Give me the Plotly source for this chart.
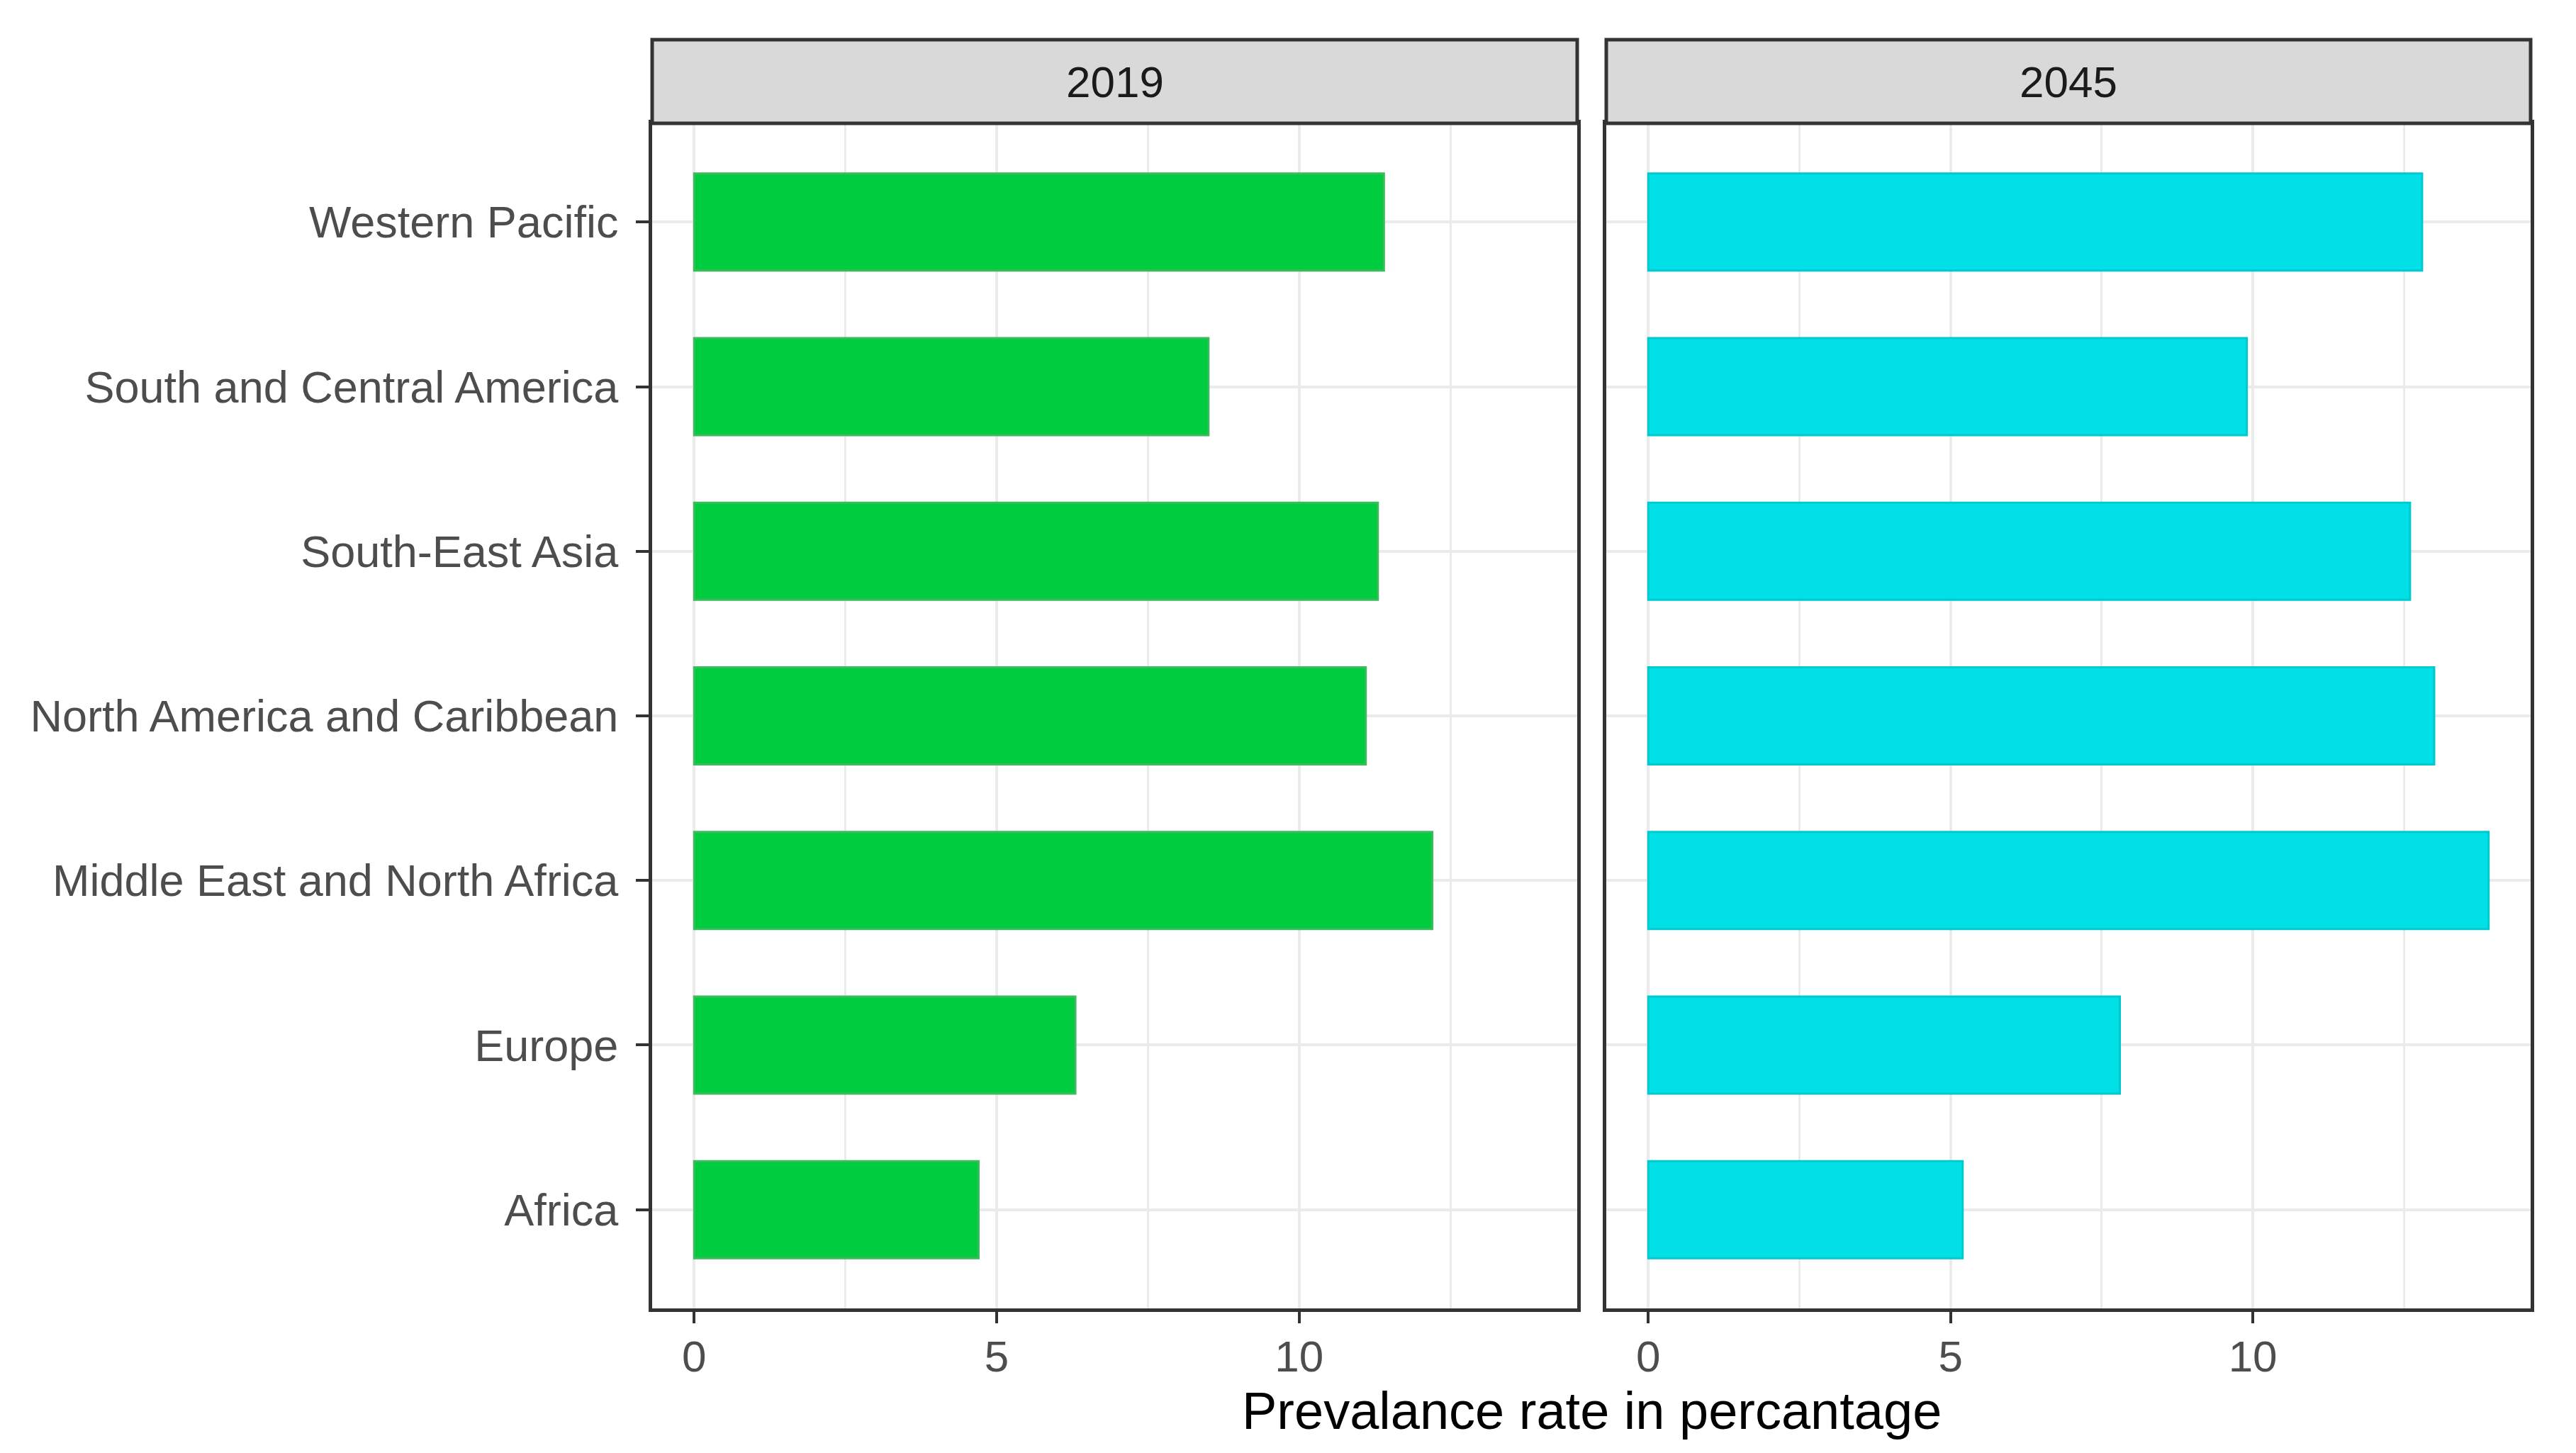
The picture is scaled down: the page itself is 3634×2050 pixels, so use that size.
import plotly.graph_objects as go

regions = ["Africa", "Europe", "Middle East and North Africa",
           "North America and Caribbean", "South-East Asia",
           "South and Central America", "Western Pacific"]
rate_2019 = [4.7, 6.3, 12.2, 11.1, 11.3, 8.5, 11.4]
rate_2045 = [5.2, 7.8, 13.9, 13.0, 12.6, 9.9, 12.8]
years = ["2019", "2045"]
x_ticks = [0, 5, 10]
x_minor = [2.5, 7.5, 12.5]

W, H = 3634, 2050
FONT = "Liberation Sans"
dark = "#333333"
grid = "#ebebeb"

# panel positions (paper)
dom1 = [912 / W, 2217 / W]
dom2 = [2258 / W, 3562 / W]
ydom = [(H - 1838) / H, (H - 166) / H]
strip_top = (H - 48) / H

xmax = max(max(rate_2019), max(rate_2045))
xr = [-0.05 * xmax, 1.05 * xmax]

fig = go.Figure()
fig.add_trace(go.Bar(
    x=rate_2019, y=regions, orientation="h", xaxis="x", yaxis="y",
    marker=dict(color="#00cc40", line=dict(color="#3dba5c", width=3)),
    showlegend=False))
fig.add_trace(go.Bar(
    x=rate_2045, y=regions, orientation="h", xaxis="x2", yaxis="y2",
    marker=dict(color="#00e0e6", line=dict(color="#00c9cf", width=3)),
    showlegend=False))

xax = dict(range=xr, tickvals=x_ticks, showgrid=True, gridcolor=grid,
           gridwidth=4, zeroline=False, ticks="outside", ticklen=16,
           tickwidth=4, tickcolor=dark, showline=True, linecolor=dark,
           linewidth=5, mirror=True, ticklabelstandoff=-6,
           tickfont=dict(family=FONT, size=62, color="#4d4d4d"),
           minor=dict(tickvals=x_minor, showgrid=True, gridcolor=grid,
                      gridwidth=3, ticks=""))
yax = dict(type="category", categoryorder="array", categoryarray=regions,
           range=[-0.6, len(regions) - 0.4], showgrid=True, gridcolor=grid,
           gridwidth=4, zeroline=False, showline=True, linecolor=dark,
           linewidth=5, mirror=True, domain=ydom)

fig.update_layout(
    width=W, height=H,
    margin=dict(l=0, r=0, t=0, b=0),
    paper_bgcolor="white", plot_bgcolor="white",
    bargap=0.41,
    xaxis=dict(xax, domain=dom1, anchor="y"),
    xaxis2=dict(xax, domain=dom2, anchor="y2"),
    yaxis=dict(yax, anchor="x", ticks="outside", ticklen=18, tickwidth=4,
               tickcolor=dark, ticklabelstandoff=12,
               tickfont=dict(family=FONT, size=63, color="#4d4d4d")),
    yaxis2=dict(yax, anchor="x2", showticklabels=False, ticks=""),
)

# facet strips
for dom, label in zip([dom1, dom2], years):
    fig.add_shape(type="rect", xref="paper", yref="paper",
                  x0=dom[0], x1=dom[1], y0=ydom[1], y1=strip_top,
                  fillcolor="#d9d9d9", line=dict(color=dark, width=5))
    fig.add_annotation(x=(dom[0] + dom[1]) / 2, y=(ydom[1] + strip_top) / 2,
                       xref="paper", yref="paper", text=label, showarrow=False,
                       xanchor="center", yanchor="middle",
                       font=dict(family=FONT, size=62, color="#1a1a1a"))

fig.add_annotation(x=(dom1[0] + dom2[1]) / 2, y=(H - 1982) / H,
                   xref="paper", yref="paper",
                   text="Prevalance rate in percantage", showarrow=False,
                   xanchor="center", yanchor="middle",
                   font=dict(family=FONT, size=74, color="black"))

fig.write_html("out.html")
